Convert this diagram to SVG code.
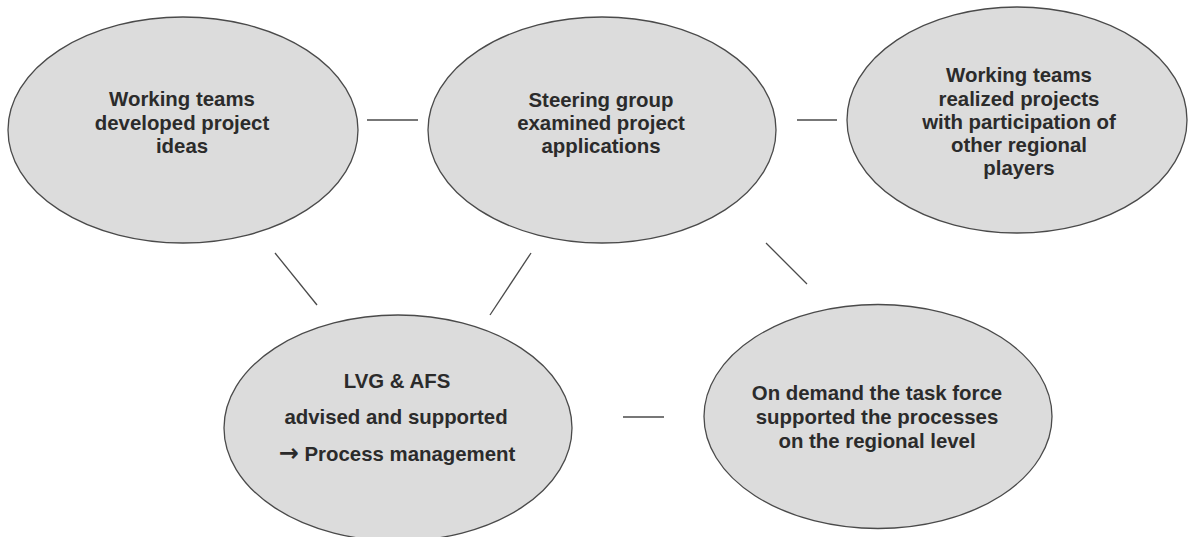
<svg xmlns="http://www.w3.org/2000/svg" width="1189" height="537" viewBox="0 0 1189 537">
<style>
.node ellipse{fill:#dcdcdc;stroke:#4a4a4a;stroke-width:1.3}
.node text{font-family:"Liberation Sans",Arial,sans-serif;font-weight:bold;font-size:20.4px;fill:#2b2b2b;text-anchor:middle}
.node .arrow{font-family:"Noto Sans","DejaVu Sans",sans-serif;font-weight:bold;font-size:24px}
.conn line{stroke:#4a4a4a;stroke-width:1.3}
</style>
<rect width="1189" height="537" fill="#ffffff"/>
<g id="connectors" class="conn">
<line x1="367" y1="120" x2="418" y2="120"/>
<line x1="797" y1="120" x2="837" y2="120"/>
<line x1="275" y1="253" x2="317" y2="305"/>
<line x1="531" y1="253" x2="490" y2="315"/>
<line x1="766" y1="243" x2="807" y2="284"/>
<line x1="623" y1="417" x2="664" y2="417"/>
</g>
<g id="node-developed" class="node">
<ellipse cx="183" cy="130" rx="175" ry="113"/>
<text x="182" y="106">Working teams</text>
<text x="182" y="130">developed project</text>
<text x="182" y="153">ideas</text>
</g>
<g id="node-steering" class="node">
<ellipse cx="602" cy="130" rx="174" ry="113"/>
<text x="601" y="107">Steering group</text>
<text x="601" y="130">examined project</text>
<text x="601" y="153">applications</text>
</g>
<g id="node-realized" class="node">
<ellipse cx="1017" cy="120" rx="170" ry="113"/>
<text x="1019" y="82">Working teams</text>
<text x="1019" y="106">realized projects</text>
<text x="1019" y="129">with participation of</text>
<text x="1019" y="152">other regional</text>
<text x="1019" y="175">players</text>
</g>
<g id="node-lvg" class="node">
<ellipse cx="398" cy="428" rx="174" ry="113"/>
<text x="397" y="388">LVG &amp; AFS</text>
<text x="396" y="424">advised and supported</text>
<text x="397" y="461"><tspan class="arrow">→</tspan> Process management</text>
</g>
<g id="node-taskforce" class="node">
<ellipse cx="878" cy="416.5" rx="174" ry="112"/>
<text x="877" y="400">On demand the task force</text>
<text x="877" y="424">supported the processes</text>
<text x="877" y="448">on the regional level</text>
</g>
</svg>
